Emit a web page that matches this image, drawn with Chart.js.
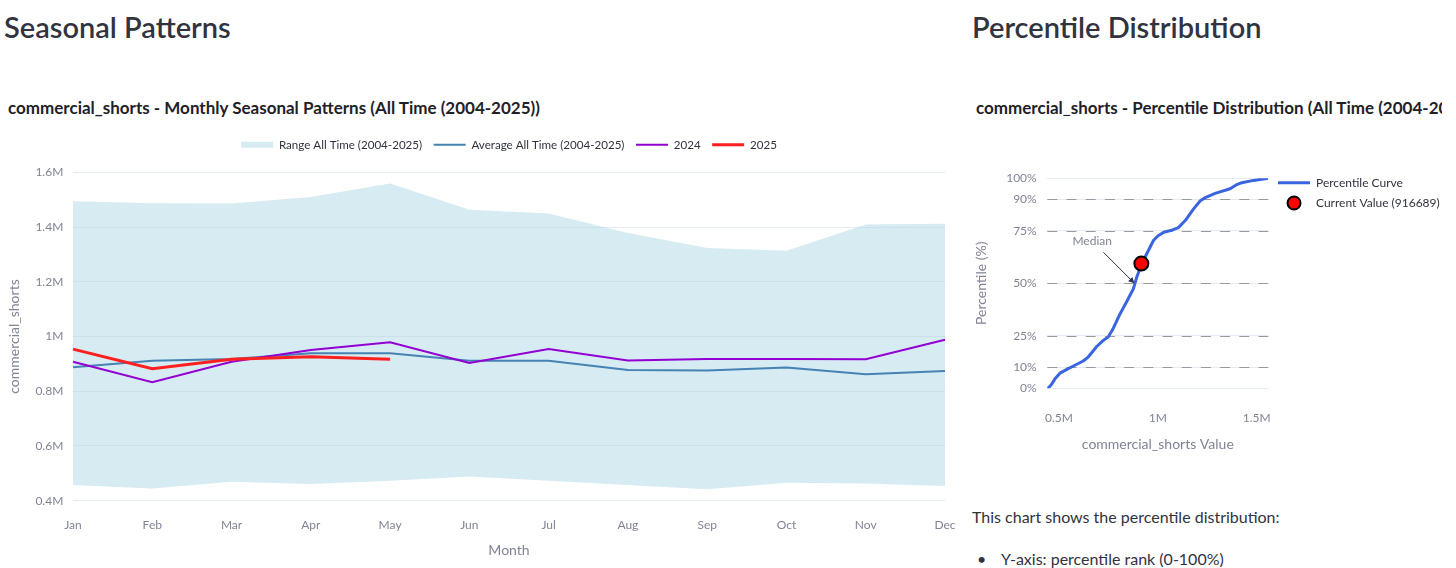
<!DOCTYPE html>
<html>
<head>
<meta charset="utf-8">
<script src="https://cdn.jsdelivr.net/npm/chart.js@4.4.1/dist/chart.umd.min.js"></script>
<style>
html,body{margin:0;padding:0;background:#fff;width:1456px;height:568px;overflow:hidden;font-family:Lato,'Noto Sans',sans-serif;color:#31333F;}
.t{position:absolute;white-space:nowrap;line-height:1;}
.h{font-size:29px;font-weight:600;color:#31333F;}
.ct{font-size:17px;font-weight:700;color:#1f2128;}
.p{font-size:16px;color:#31333F;}
.box{position:absolute;}
</style>
</head>
<body>
<div class="t h" style="left:4px;top:11.6px;">Seasonal Patterns</div>
<div class="t h" style="left:972px;top:11.6px;">Percentile Distribution</div>
<div class="t ct" style="left:8px;top:99px;">commercial_shorts - Monthly Seasonal Patterns (All Time (2004-2025))</div>
<div class="t ct" style="left:976px;top:99px;width:466px;overflow:hidden;">commercial_shorts - Percentile Distribution (All Time (2004-2025))</div>
<div class="box" style="left:0;top:125px;width:960px;height:440px;"><canvas id="chart1"></canvas></div>
<div class="box" style="left:960px;top:125px;width:496px;height:340px;"><canvas id="chart2"></canvas></div>
<div class="t p" style="left:972px;top:509px;">This chart shows the percentile distribution:</div>
<div class="t p" style="left:977px;top:551px;">•</div>
<div class="t p" style="left:1001px;top:551px;">Y-axis: percentile rank (0-100%)</div>
<script>
// ---------- data: seasonal chart ----------
const months = ['Jan','Feb','Mar','Apr','May','Jun','Jul','Aug','Sep','Oct','Nov','Dec'];
const rangeMax = [1494000,1487000,1486000,1510000,1559000,1463000,1449000,1378000,1323000,1313000,1409000,1412000];
const rangeMin = [457000,445000,469000,461000,473000,488000,473000,457000,442000,466000,463000,454000];
const averageAllTime = [888000,911000,918000,939000,939000,911000,911000,878000,876000,887000,862000,874000];
const year2024 = [908000,833000,908000,951000,979000,903000,954000,912000,918000,918000,917000,988000];
const year2025 = [954000,882000,917000,926000,916689,null,null,null,null,null,null,null];
const seasonalYTicks = [400000,600000,800000,1000000,1200000,1400000,1600000];

// ---------- data: percentile chart ----------
const curveValues = [441000,455000,463000,480000,505000,540000,573000,623000,649000,690000,720000,750000,775000,806000,843000,876000,894000,919000,941000,978000,1000000,1030000,1075000,1104000,1140000,1180000,1215000,1240000,1290000,1366000,1400000,1425000,1484000,1559000];
const curvePercentiles = [0,1,2,4.5,7.2,9,10.6,13,15,19.8,22.5,24.5,28.6,34.9,41.3,47.3,53,59.4,63.5,70.4,72.5,74.3,75.4,76.5,80,85.3,89.3,90.8,92.8,95,97,97.9,99,100];
const currentValue = 916689;
const currentPercentile = 59.4;
const medianValue = 882000;
const refPercentiles = [10,25,50,75,90];
const percentileTicks = [0,10,25,50,75,90,100];
const valueTicks = [500000,1000000,1500000];

// ---------- styles ----------
const FONT = "Lato, 'Noto Sans', sans-serif";
Chart.defaults.font.family = FONT;
Chart.defaults.animation = false;
const tickColor = '#808495';
const gridColor = '#E6EAF1';
const bandColor = 'rgba(173,216,230,0.5)';
const fmtM = v => (v/1e6).toFixed(1).replace(/\.0$/,'') + 'M';

// place legend of chart 1 centered over plot area, at fixed height
const legendPlace1 = {
  id: 'legendPlace1',
  afterLayout(chart) {
    const lg = chart.legend, ca = chart.chartArea;
    const h = lg.height;
    lg.left = ca.left; lg.right = ca.right; lg.width = ca.right - ca.left;
    lg.top = 2.5; lg.bottom = lg.top + h;
  }
};

const chart1 = new Chart(document.getElementById('chart1'), {
  type: 'line',
  data: {
    labels: months,
    datasets: [
      { label: 'Range All Time (2004-2025)', data: rangeMax, borderWidth: 0, borderColor: 'rgba(0,0,0,0)', backgroundColor: bandColor, fill: '+1', pointRadius: 0, order: 5 },
      { label: 'rangeLower', data: rangeMin, borderWidth: 0, borderColor: 'rgba(0,0,0,0)', fill: false, pointRadius: 0, order: 4 },
      { label: 'Average All Time (2004-2025)', data: averageAllTime, borderColor: '#4682B4', borderWidth: 2, pointRadius: 0, fill: false, order: 3 },
      { label: '2024', data: year2024, borderColor: '#9400D3', borderWidth: 2, pointRadius: 0, fill: false, order: 2 },
      { label: '2025', data: year2025, borderColor: '#FF1F1F', borderWidth: 3, pointRadius: 0, fill: false, spanGaps: false, order: 1 }
    ]
  },
  options: {
    responsive: true, maintainAspectRatio: false, animation: false,
    layout: { padding: { left: 0, right: 15, top: 14.2, bottom: 0 } },
    plugins: {
      tooltip: { enabled: false },
      legend: {
        position: 'top', align: 'center',
        labels: {
          usePointStyle: true, pointStyleWidth: 32, boxHeight: 6, padding: 11.5,
          color: '#31333F', font: { size: 11.6 },
          generateLabels(chart) {
            const ds = chart.data.datasets;
            return [0,2,3,4].map(i => ({
              text: ds[i].label,
              fillStyle: i === 0 ? bandColor : ds[i].borderColor,
              strokeStyle: ds[i].borderColor,
              lineWidth: i === 0 ? 0 : ds[i].borderWidth,
              pointStyle: i === 0 ? 'rect' : 'line',
              fontColor: '#31333F',
              hidden: false,
              datasetIndex: i
            }));
          }
        }
      }
    },
    scales: {
      x: {
        type: 'category',
        grid: { display: false, drawTicks: false },
        border: { display: false },
        ticks: { color: tickColor, font: { size: 12 }, padding: 17.1, autoSkip: false, maxRotation: 0 },
        title: { display: true, text: 'Month', color: tickColor, font: { size: 14 }, padding: { top: 0, bottom: 6.6 } },
        afterFit(s) { s.height = 64.3; s.paddingLeft = 0; s.paddingRight = 0; }
      },
      y: {
        min: seasonalYTicks[0], max: seasonalYTicks[seasonalYTicks.length-1],
        afterBuildTicks(s) { s.ticks = seasonalYTicks.map(v => ({ value: v })); },
        grid: { color: gridColor, drawTicks: false },
        border: { display: false },
        ticks: { color: tickColor, font: { size: 12 }, padding: 9.7, callback: fmtM },
        title: { display: true, text: 'commercial_shorts', color: tickColor, font: { size: 14 }, padding: { top: 5.6, bottom: 0 } },
        afterFit(s) { s.width = 73; }
      }
    }
  },
  plugins: [legendPlace1]
});

// ---------- chart 2 ----------
function markerSymbol() {
  const c = document.createElement('canvas');
  c.width = 18; c.height = 18;
  const g = c.getContext('2d');
  g.beginPath(); g.arc(9, 9, 6.5, 0, Math.PI*2);
  g.fillStyle = '#FF0000'; g.fill();
  g.lineWidth = 2; g.strokeStyle = '#000'; g.stroke();
  return c;
}
const marker = markerSymbol();

const legendPlace2 = {
  id: 'legendPlace2',
  afterLayout(chart) {
    const lg = chart.legend;
    const pad = lg.options.labels.padding;
    const w = lg.width, h = lg.height;
    lg.left = 318 - pad; lg.right = lg.left + w;
    lg.top = 57.7 - 6 - pad; lg.bottom = lg.top + h;
  }
};

const refLines = {
  id: 'refLines',
  beforeDatasetsDraw(chart) {
    const { ctx, chartArea: ca, scales: { y } } = chart;
    ctx.save();
    ctx.strokeStyle = '#9a9a9a';
    ctx.lineWidth = 1;
    ctx.setLineDash([10, 9.2]);
    refPercentiles.forEach(p => {
      const py = Math.round(y.getPixelForValue(p)) + 0.5;
      ctx.beginPath(); ctx.moveTo(ca.left, py); ctx.lineTo(ca.right, py); ctx.stroke();
    });
    ctx.restore();
  }
};

const medianNote = {
  id: 'medianNote',
  afterDatasetsDraw(chart) {
    const { ctx, scales: { x, y } } = chart;
    const px = x.getPixelForValue(medianValue), py = y.getPixelForValue(50);
    ctx.save();
    ctx.font = '12px ' + FONT;
    ctx.fillStyle = '#808495';
    ctx.textAlign = 'center'; ctx.textBaseline = 'middle';
    ctx.fillText('Median', px - 42.3, py - 41.7);
    const sx = px - 31, sy = py - 31;
    const ang = Math.atan2(py - sy, px - sx);
    ctx.strokeStyle = '#2a3447'; ctx.fillStyle = '#2a3447'; ctx.lineWidth = 1;
    ctx.beginPath(); ctx.moveTo(sx, sy); ctx.lineTo(px - 4*Math.cos(ang), py - 4*Math.sin(ang)); ctx.stroke();
    const hl = 6, hw = 3;
    ctx.beginPath();
    ctx.moveTo(px, py);
    ctx.lineTo(px - hl*Math.cos(ang) + hw*Math.sin(ang), py - hl*Math.sin(ang) - hw*Math.cos(ang));
    ctx.lineTo(px - hl*Math.cos(ang) - hw*Math.sin(ang), py - hl*Math.sin(ang) + hw*Math.cos(ang));
    ctx.closePath(); ctx.fill();
    ctx.restore();
  }
};

const chart2 = new Chart(document.getElementById('chart2'), {
  type: 'line',
  data: {
    datasets: [
      { label: 'Current Value (' + currentValue + ')', data: [{ x: currentValue, y: currentPercentile }], showLine: false,
        pointRadius: 7, pointBackgroundColor: '#FF0000', pointBorderColor: '#000', pointBorderWidth: 2, order: 0 },
      { label: 'Percentile Curve', data: curveValues.map((v, i) => ({ x: v, y: curvePercentiles[i] })),
        borderColor: '#3B65E0', borderWidth: 3, pointRadius: 0, tension: 0, fill: false, order: 1, borderJoinStyle: 'round' }
    ]
  },
  options: {
    responsive: true, maintainAspectRatio: false, animation: false,
    layout: { padding: { left: 0, right: 187.7, top: 53.3, bottom: 0 } },
    plugins: {
      tooltip: { enabled: false },
      legend: {
        position: 'chartArea', align: 'start',
        labels: {
          usePointStyle: true, pointStyleWidth: 32, boxHeight: 12, padding: 8.3,
          color: '#31333F', font: { size: 12 },
          generateLabels(chart) {
            const ds = chart.data.datasets;
            return [
              { text: ds[1].label, strokeStyle: ds[1].borderColor, fillStyle: ds[1].borderColor, lineWidth: 3, pointStyle: 'line', fontColor: '#31333F', hidden: false, datasetIndex: 1 },
              { text: ds[0].label, strokeStyle: '#000', fillStyle: '#FF0000', lineWidth: 2, pointStyle: marker, fontColor: '#31333F', hidden: false, datasetIndex: 0 }
            ];
          }
        }
      }
    },
    scales: {
      x: {
        type: 'linear',
        min: Math.min(...curveValues), max: Math.max(...curveValues),
        afterBuildTicks(s) { s.ticks = valueTicks.map(v => ({ value: v })); },
        grid: { display: false, drawTicks: false },
        border: { display: false },
        ticks: { color: tickColor, font: { size: 12 }, padding: 22.8, callback: fmtM },
        title: { display: true, text: 'commercial_shorts Value', color: tickColor, font: { size: 14 }, padding: { top: 0, bottom: 12.6 } },
        afterFit(s) { s.height = 76.7; }
      },
      y: {
        type: 'linear', min: 0, max: 100,
        afterBuildTicks(s) { s.ticks = percentileTicks.map(v => ({ value: v })); },
        grid: { color: gridColor, drawTicks: false },
        border: { display: false },
        ticks: { color: tickColor, font: { size: 12 }, padding: 10.6, callback: v => v + '%' },
        title: { display: true, text: 'Percentile (%)', color: tickColor, font: { size: 14 }, padding: { top: 13.3, bottom: 0 } },
        afterFit(s) { s.width = 87.3; }
      }
    }
  },
  plugins: [legendPlace2, refLines, medianNote]
});
</script>
</body>
</html>
